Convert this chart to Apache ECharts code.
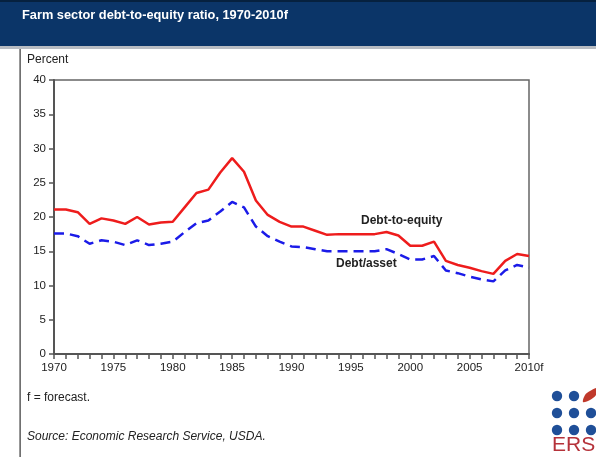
<!DOCTYPE html>
<html>
<head>
<meta charset="utf-8">
<script src="https://cdn.jsdelivr.net/npm/echarts@6/dist/echarts.min.js"></script>
<style>
html,body{margin:0;padding:0;background:#fff;}
#chart{width:596px;height:457px;}
</style>
</head>
<body>
<div id="chart"></div>
<script>
var years = ['1970','1971','1972','1973','1974','1975','1976','1977','1978','1979','1980','1981','1982','1983','1984','1985','1986','1987','1988','1989','1990','1991','1992','1993','1994','1995','1996','1997','1998','1999','2000','2001','2002','2003','2004','2005','2006','2007','2008','2009','2010f'];
var debtToEquity = [21.1,21.1,20.7,19.0,19.8,19.5,19.0,20.0,18.9,19.2,19.3,21.4,23.5,24.0,26.5,28.6,26.6,22.4,20.3,19.3,18.6,18.6,18.0,17.4,17.5,17.5,17.5,17.5,17.8,17.3,15.8,15.8,16.4,13.6,13.0,12.6,12.1,11.7,13.6,14.6,14.3];
var debtToAsset = [17.6,17.6,17.2,16.1,16.6,16.4,15.9,16.6,15.9,16.1,16.4,17.8,19.1,19.5,20.8,22.2,21.4,18.6,17.2,16.4,15.7,15.6,15.3,15.0,15.0,15.0,15.0,15.0,15.3,14.6,13.8,13.8,14.3,12.2,11.8,11.3,10.9,10.6,12.2,13.0,12.6];
var yTicks = {min: 0, max: 40, interval: 5};
var seriesLabels = ['Debt-to-equity', 'Debt/asset'];

var chart = echarts.init(document.getElementById('chart'), null, {renderer: 'canvas'});
var font = 'Liberation Sans, Arial, sans-serif';
var dotColor = '#1f4f98';
var dots = [];
var dx = [557, 574, 591], dy = [396, 413, 430];
for (var r = 0; r < 3; r++) {
  for (var c = 0; c < 3; c++) {
    if (r === 0 && c === 2) continue;
    dots.push({type: 'circle', shape: {cx: dx[c], cy: dy[r], r: 5.2}, style: {fill: dotColor}, silent: true});
  }
}
function txt(x, y, s, size, weight, style, color) {
  return {type: 'text', x: x, y: y, silent: true,
    style: {text: s, fill: color || '#222', fontSize: size, fontWeight: weight || 'normal', fontStyle: style || 'normal', fontFamily: font, textVerticalAlign: 'middle', verticalAlign: 'middle'}};
}
var option = {
  animation: false,
  backgroundColor: '#fff',
  grid: {left: 54, right: 67, top: 80, bottom: 103, show: true, borderColor: '#666', borderWidth: 1.5, backgroundColor: 'transparent'},
  xAxis: {
    type: 'category',
    data: years,
    boundaryGap: false,
    axisLine: {lineStyle: {color: '#555', width: 2}},
    axisTick: {show: true, interval: 0, length: 5, lineStyle: {color: '#555', width: 1.5}},
    axisLabel: {interval: 4, color: '#222', fontFamily: font, fontSize: 11.5, margin: 8},
    splitLine: {show: false}
  },
  yAxis: {
    type: 'value',
    min: yTicks.min, max: yTicks.max, interval: yTicks.interval,
    axisLine: {show: true, lineStyle: {color: '#555', width: 2}},
    axisTick: {show: true, length: 5, lineStyle: {color: '#555', width: 1.5}},
    axisLabel: {color: '#222', fontFamily: font, fontSize: 11.5, margin: 8},
    splitLine: {show: false}
  },
  series: [
    {name: seriesLabels[0], type: 'line', data: debtToEquity, symbol: 'none', lineStyle: {color: '#ee1c1c', width: 2.5}},
    {name: seriesLabels[1], type: 'line', data: debtToAsset, symbol: 'none', lineStyle: {color: '#1b1be8', width: 2.5, type: [10, 6]}}
  ],
  graphic: [
    {type: 'rect', shape: {x: 0, y: 0, width: 596, height: 47}, style: {fill: '#0b3568'}, silent: true},
    {type: 'rect', shape: {x: 0, y: 0, width: 596, height: 2}, style: {fill: '#06213f'}, silent: true},
    {type: 'rect', shape: {x: 0, y: 46, width: 596, height: 3}, style: {fill: '#b8bcc2'}, silent: true},
    txt(22, 15, 'Farm sector debt-to-equity ratio, 1970-2010f', 12.8, 'bold', 'normal', '#fff'),
    {type: 'rect', shape: {x: 19.5, y: 49, width: 1.2, height: 408}, style: {fill: '#333'}, silent: true},
    txt(27, 60, 'Percent', 12),
    txt(361, 221, seriesLabels[0], 12, 'bold'),
    txt(336, 264, seriesLabels[1], 12, 'bold'),
    txt(27, 398, 'f = forecast.', 12),
    txt(27, 437, 'Source: Economic Research Service, USDA.', 12, 'normal', 'italic'),
    {type: 'polygon', shape: {points: [[583, 402], [585, 395], [590, 391], [597, 388], [596, 395], [590, 400]], smooth: 0.3}, style: {fill: '#c0392b'}, silent: true},
    txt(552, 445, 'ERS', 21, 'normal', 'normal', '#b5323a')
  ].concat(dots)
};
chart.setOption(option);
</script>
</body>
</html>
